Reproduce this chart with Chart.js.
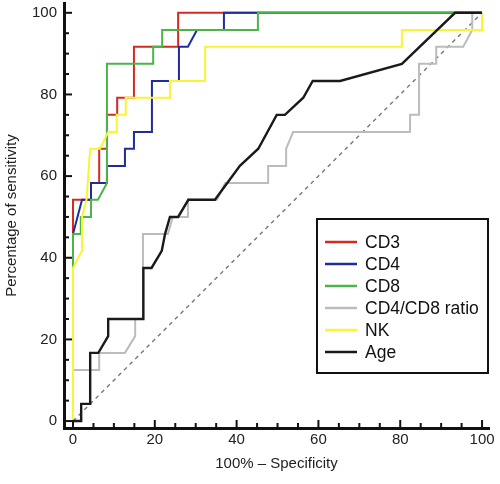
<!DOCTYPE html>
<html>
<head>
<meta charset="utf-8">
<script src="https://cdn.jsdelivr.net/npm/chart.js@4.4.1/dist/chart.umd.min.js"></script>
<style>
  html, body { margin: 0; padding: 0; background: #fff; }
</style>
</head>
<body>
<canvas id="roc" width="500" height="484"></canvas>
<script>
// ROC curves, x = 100% - specificity, y = sensitivity (%)
const seriesNames = ['CD3', 'CD4', 'CD8', 'CD4/CD8 ratio', 'NK', 'Age'];
const seriesColors = ['#d62a20', '#1f2d9c', '#4bb548', '#bcbcbc', '#f7f534', '#1a1a1a'];

const cd3X = [0, 0, 4.4, 4.4, 6.4, 6.4, 8.3, 8.3, 10.8, 10.8, 14.9, 14.9, 25.7, 25.7, 100];
const cd3Y = [0, 54.2, 54.2, 58.3, 58.3, 66.7, 66.7, 75, 75, 79.2, 79.2, 91.7, 91.7, 100, 100];

const cd4X = [0, 0, 2.2, 4.4, 4.4, 8.3, 8.3, 12.7, 12.7, 14.9, 14.9, 19.3, 19.3, 25.9, 25.9, 28.1, 30.3, 36.9, 36.9, 100];
const cd4Y = [0, 45.8, 54.2, 54.2, 58.3, 58.3, 62.5, 62.5, 66.7, 66.7, 70.8, 70.8, 83.3, 83.3, 91.7, 91.7, 95.8, 95.8, 100, 100];

const cd8X = [0, 0, 0, 1.9, 1.9, 4.4, 4.4, 6.1, 8.3, 8.3, 19.6, 19.6, 21.8, 21.8, 45.2, 45.2, 100];
const cd8Y = [0, 37.5, 45.8, 45.8, 50, 50, 54.2, 54.2, 58.3, 87.5, 87.5, 91.7, 91.7, 95.8, 95.8, 100, 100];

const ratioX = [0, 0, 6.4, 6.4, 12.7, 15.2, 15.2, 17.1, 17.1, 23.2, 24.4, 28.1, 28.1, 35.2, 37.2, 47.7, 47.7, 52.1, 52.1, 53.8, 82.4, 82.4, 84.6, 84.6, 88.8, 88.8, 95.4, 97.6, 97.6, 100];
const ratioY = [0, 12.5, 12.5, 16.7, 16.7, 20.8, 25, 25, 45.8, 45.8, 50, 50, 54.2, 54.2, 58.3, 58.3, 62.5, 62.5, 66.7, 70.8, 70.8, 75, 75, 87.5, 87.5, 91.7, 91.7, 95.8, 100, 100];

const nkX = [0, 0, 2.2, 2.2, 3.3, 4.2, 6.6, 8.6, 10.7, 10.7, 12.9, 12.9, 23.7, 23.7, 32.3, 32.3, 80.4, 80.4, 100, 100];
const nkY = [0, 37.5, 41.7, 50, 54.2, 66.7, 66.7, 70.8, 70.8, 75, 75, 79.2, 79.2, 83.3, 83.3, 91.7, 91.7, 95.8, 95.8, 100];

const ageX = [0, 2.0, 2.0, 4.2, 4.2, 6.2, 8.6, 8.6, 17.2, 17.2, 19.2, 21.7, 22.5, 23.7, 25.7, 28.2, 34.7, 40.8, 45.3, 49.8, 51.8, 56.3, 58.6, 65.3, 80.4, 93.4, 100];
const ageY = [0, 0, 4.2, 4.2, 16.7, 16.7, 20.8, 25, 25, 37.5, 37.5, 41.7, 45.8, 50, 50, 54.2, 54.2, 62.5, 66.7, 75, 75, 79.2, 83.3, 83.3, 87.5, 100, 100];

const refX = [0, 100];
const refY = [0, 100];

const tickLabels = [0, 20, 40, 60, 80, 100];
const minorTicks = [0, 5, 10, 15, 20, 25, 30, 35, 40, 45, 50, 55, 60, 65, 70, 75, 80, 85, 90, 95, 100];

const FONT = '"Liberation Sans", Arial, Helvetica, sans-serif';

const toPoints = (xs, ys) => xs.map((x, i) => ({ x: x, y: ys[i] }));

const seriesX = [cd3X, cd4X, cd8X, ratioX, nkX, ageX];
const seriesY = [cd3Y, cd4Y, cd8Y, ratioY, nkY, ageY];

const datasets = seriesNames.map((name, i) => ({
  label: name,
  data: toPoints(seriesX[i], seriesY[i]),
  borderColor: seriesColors[i],
  borderWidth: name === 'Age' ? 2.4 : 2,
  showLine: true,
  pointRadius: 0,
  tension: 0,
  order: seriesNames.length - 1 - i, // Age on top, CD3 at the bottom
}));

datasets.push({
  label: 'reference',
  data: toPoints(refX, refY),
  borderColor: '#777',
  borderWidth: 1.4,
  borderDash: [4, 4],
  showLine: true,
  pointRadius: 0,
  order: 10,
});

// ticks pointing into the plot, major every 20, minor every 5
const innerTicks = {
  id: 'innerTicks',
  afterDraw(chart) {
    const { ctx, chartArea, scales } = chart;
    ctx.save();
    ctx.strokeStyle = '#111';
    ctx.lineWidth = 2;
    minorTicks.forEach((v) => {
      const len = v % 20 === 0 ? 8 : 5;
      const x = scales.x.getPixelForValue(v);
      ctx.beginPath();
      ctx.moveTo(x, chartArea.bottom);
      ctx.lineTo(x, chartArea.bottom - len);
      ctx.stroke();
      const y = scales.y.getPixelForValue(v);
      ctx.beginPath();
      ctx.moveTo(chartArea.left, y);
      ctx.lineTo(chartArea.left + len, y);
      ctx.stroke();
    });
    ctx.restore();
  },
};

// boxed legend inside the plot
const boxLegend = {
  id: 'boxLegend',
  afterDraw(chart, args, opts) {
    const { ctx } = chart;
    ctx.save();
    ctx.fillStyle = '#fff';
    ctx.fillRect(opts.left, opts.top, opts.right - opts.left, opts.bottom - opts.top);
    ctx.strokeStyle = '#111';
    ctx.lineWidth = 2;
    ctx.strokeRect(opts.left, opts.top, opts.right - opts.left, opts.bottom - opts.top);
    ctx.font = '17.5px ' + FONT;
    ctx.textBaseline = 'middle';
    seriesNames.forEach((name, i) => {
      const y = opts.firstRow + i * opts.rowStep;
      ctx.strokeStyle = seriesColors[i];
      ctx.lineWidth = 2.5;
      ctx.beginPath();
      ctx.moveTo(opts.lineStart, y);
      ctx.lineTo(opts.lineEnd, y);
      ctx.stroke();
      ctx.fillStyle = '#111';
      ctx.fillText(name, opts.textX, y + 1);
    });
    ctx.restore();
  },
};

const setTicks = (axis) => {
  axis.ticks = tickLabels.map((v) => ({ value: v }));
};

// no extra room for overhanging tick labels, the plot runs to the padding
const noOverhang = (axis) => {
  axis.paddingTop = 0;
  axis.paddingBottom = 0;
  axis.paddingLeft = 0;
  axis.paddingRight = 0;
};

new Chart(document.getElementById('roc').getContext('2d'), {
  type: 'scatter',
  data: { datasets: datasets },
  options: {
    responsive: false,
    animation: false,
    devicePixelRatio: 1,
    layout: { padding: { left: 0, right: 11, top: 3, bottom: 0 } },
    plugins: {
      legend: { display: false },
      tooltip: { enabled: false },
      boxLegend: {
        left: 317, top: 219, right: 488, bottom: 373,
        firstRow: 242, rowStep: 22, lineStart: 325, lineEnd: 357, textX: 365,
      },
    },
    scales: {
      x: {
        type: 'linear',
        min: -2.2,
        max: 101.7,
        afterBuildTicks: setTicks,
        afterFit: (axis) => { axis.height = 56; noOverhang(axis); },
        grid: { display: false, drawTicks: false },
        border: { display: true, color: '#111', width: 3 },
        ticks: { color: '#222', padding: 3, font: { size: 15, family: FONT } },
        title: {
          display: true,
          text: '100% – Specificity',
          color: '#222',
          font: { size: 15, family: FONT },
          padding: { top: 0, bottom: 11 },
        },
      },
      y: {
        type: 'linear',
        min: -1.7,
        max: 102.4,
        afterBuildTicks: setTicks,
        afterFit: (axis) => { axis.width = 64; noOverhang(axis); },
        grid: { display: false, drawTicks: false },
        border: { display: true, color: '#111', width: 3 },
        ticks: { color: '#222', padding: 7, font: { size: 15, family: FONT } },
        title: {
          display: true,
          text: 'Percentage of sensitivity',
          color: '#222',
          font: { size: 15, family: FONT },
          padding: { top: 3, bottom: 0 },
        },
      },
    },
  },
  plugins: [innerTicks, boxLegend],
});
</script>
</body>
</html>
